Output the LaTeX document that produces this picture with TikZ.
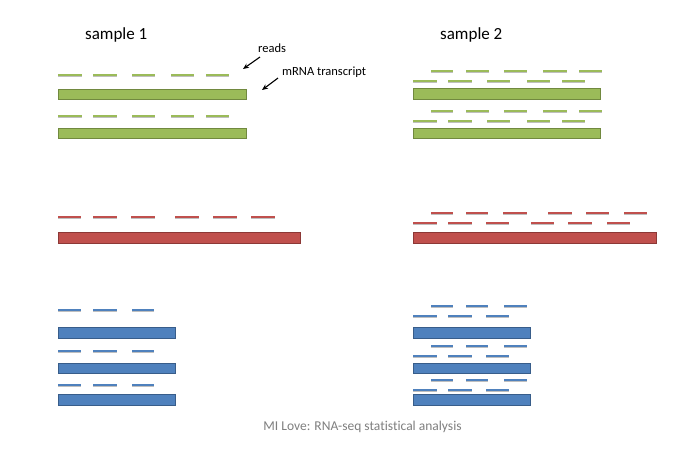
\documentclass[tikz,border=0pt]{standalone}
\usepackage{fontspec}
\setmainfont{Carlito}[Ligatures=NoCommon]
\usetikzlibrary{arrows.meta,shadows}
\definecolor{gfill}{HTML}{9BBB59}\definecolor{gdraw}{HTML}{71893F}
\definecolor{rfill}{HTML}{C0504D}\definecolor{rdraw}{HTML}{8C3836}
\definecolor{bfill}{HTML}{4F81BD}\definecolor{bdraw}{HTML}{385D8A}
\definecolor{capgray}{HTML}{7F7F7F}
\tikzset{
  readseg/.style={rectangle,inner sep=0pt,outer sep=0pt,minimum height=2pt,
    drop shadow={shadow xshift=0.4pt,shadow yshift=-1.3pt,opacity=0.25,fill=black}},
  tx/.style={rectangle,inner sep=0pt,outer sep=0pt,line width=0.9pt,anchor=north west},
  title/.style={font=\fontsize{17}{20}\selectfont,inner sep=0pt,anchor=west},
  lbl/.style={font=\fontsize{12.5}{15}\selectfont,inner sep=0pt,anchor=west},
  pointer/.style={line width=1.1pt,-{Stealth[length=6pt,width=5pt]}},
}
\newcommand\readrow[4]{%
  \edef\rowlist{#4}%
  \foreach \xa/\xb [count=\ri] in \rowlist {%
    \pgfmathsetmacro\segwd{\xb-\xa}%
    \node[readseg,fill=#3,minimum width=\segwd pt,anchor=west] (#1-\ri) at (\xa,#2) {};}}
\begin{document}
\begin{tikzpicture}[x=1pt,y=-1pt]
\useasboundingbox[fill=white] (0,0) rectangle (685,459);
\def\Sa{58/82,93/117,132/155,171/194,206/229}
\def\Ga{431/453,466/489,504/527,543/567,579/602}
\def\Gb{413/437,448/472,487/510,527/550,562/585}
% titles
\node[title] (s1) at (85,35) {sample 1};
\node[title] (s2) at (440,35) {sample 2};
\node[lbl] (readslbl) at (258,48) {reads};
\node[lbl] (mrnalbl) at (282,72) {mRNA transcript};
% green sample 1
\readrow{g1a}{75}{gfill}{\Sa}
\node[tx,fill=gfill,draw=gdraw,minimum width=188pt,minimum height=10.5pt] (g1t1) at (58,89) {};
\readrow{g1b}{116}{gfill}{\Sa}
\node[tx,fill=gfill,draw=gdraw,minimum width=188pt,minimum height=10.5pt] (g1t2) at (58,128) {};
% arrows
\coordinate (ra) at (260,57); \coordinate (rb) at (243,69);
\coordinate (ma) at (278,78); \coordinate (mb) at (262,90);
\draw[pointer] (ra) -- (rb);
\draw[pointer] (ma) -- (mb);
% green sample 2
\readrow{g2a}{71}{gfill}{\Ga}
\readrow{g2b}{81}{gfill}{\Gb}
\node[tx,fill=gfill,draw=gdraw,minimum width=187pt,minimum height=10.5pt] (g2t1) at (413,88.5) {};
\readrow{g2c}{111}{gfill}{\Ga}
\readrow{g2d}{121}{gfill}{\Gb}
\node[tx,fill=gfill,draw=gdraw,minimum width=187pt,minimum height=10.5pt] (g2t2) at (413,128) {};
% red sample 1
\readrow{r1a}{217}{rfill}{58/81,93/117,131/155,175/199,213/237,251/275}
\node[tx,fill=rfill,draw=rdraw,minimum width=242pt,minimum height=11pt] (r1t) at (58,232) {};
% red sample 2
\readrow{r2a}{213}{rfill}{431/453,466/488,503/527,548/572,586/609,624/647}
\readrow{r2b}{223}{rfill}{413/437,448/472,486/509,531/554,568/592,607/630}
\node[tx,fill=rfill,draw=rdraw,minimum width=243pt,minimum height=11pt] (r2t) at (413,232) {};
% blue sample 1
\def\Ba{58/81,93/117,132/154}
\readrow{b1a}{310}{bfill}{\Ba}
\node[tx,fill=bfill,draw=bdraw,minimum width=117pt,minimum height=10.5pt] (b1t1) at (58,327.5) {};
\readrow{b1b}{351}{bfill}{\Ba}
\node[tx,fill=bfill,draw=bdraw,minimum width=117pt,minimum height=10.5pt] (b1t2) at (58,363) {};
\readrow{b1c}{385}{bfill}{\Ba}
\node[tx,fill=bfill,draw=bdraw,minimum width=117pt,minimum height=10.5pt] (b1t3) at (58,394.5) {};
% blue sample 2
\def\Bx{431/453,466/488,504/527}
\def\By{413/437,448/472,486/509}
\readrow{b2a}{306}{bfill}{\Bx}
\readrow{b2b}{316}{bfill}{\By}
\node[tx,fill=bfill,draw=bdraw,minimum width=117pt,minimum height=10.5pt] (b2t1) at (413,327.5) {};
\readrow{b2c}{346}{bfill}{\Bx}
\readrow{b2d}{356}{bfill}{\By}
\node[tx,fill=bfill,draw=bdraw,minimum width=117pt,minimum height=10.5pt] (b2t2) at (413,363) {};
\readrow{b2e}{380}{bfill}{\Bx}
\readrow{b2f}{390}{bfill}{\By}
\node[tx,fill=bfill,draw=bdraw,minimum width=117pt,minimum height=10.5pt] (b2t3) at (413,394.5) {};
% caption
\node[font=\fontsize{13.5}{16}\selectfont,text=capgray,inner sep=0pt] (cap) at (362.5,427) {MI Love: RNA-seq statistical analysis};
\end{tikzpicture}
\end{document}
